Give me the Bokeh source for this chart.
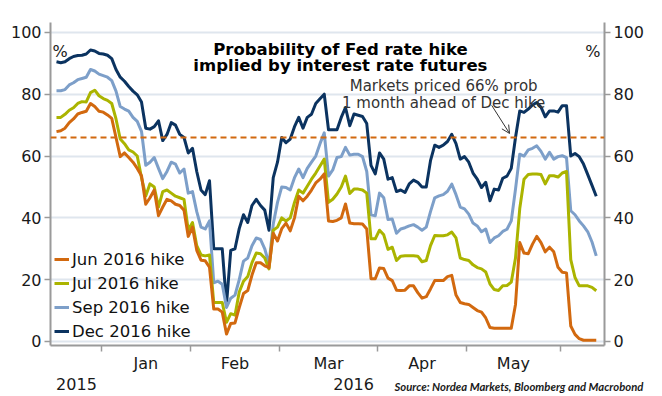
import pandas as pd
from bokeh.plotting import figure
from bokeh.models import (Range1d, LinearAxis, FixedTicker, Span, Label, Legend,
                          LegendItem, Arrow, OpenHead)
from bokeh.embed import file_html
from bokeh.resources import INLINE

# ---------------- data ----------------
dates = pd.bdate_range("2015-12-17", periods=128)

series_names = ["Jun 2016 hike", "Jul 2016 hike", "Sep 2016 hike", "Dec 2016 hike"]
series_colors = ["#d2690f", "#abb400", "#7d9fc9", "#0b3360"]

jun = [67.9, 68.2, 69.0, 70.8, 72.0, 73.6, 74.1, 74.5, 77.0, 76.0,
       74.5, 74.2, 73.3, 72.2, 66.0, 59.8, 61.0, 59.5, 58.0, 56.0,
       53.6, 44.4, 46.5, 49.0, 40.7, 43.5, 46.0, 45.5, 44.4, 44.0,
       42.5, 34.0, 37.0, 29.5, 26.3, 26.1, 24.0, 10.5, 10.5, 9.5,
       2.4, 5.8, 6.0, 11.0, 15.5, 16.5, 21.5, 25.5, 25.5, 24.5,
       23.9, 35.0, 32.5, 36.5, 38.3, 35.8, 40.0, 47.0, 45.5, 47.0,
       49.0, 51.3, 52.5, 54.2, 39.0, 38.8, 39.2, 40.0, 44.5, 38.3,
       38.1, 38.1, 38.0, 36.4, 20.3, 20.3, 23.8, 23.6, 20.5, 19.7,
       16.6, 16.5, 16.6, 18.0, 18.0, 15.8, 14.0, 14.5, 17.0, 19.7,
       19.7, 19.7, 21.0, 21.4, 15.0, 12.6, 12.2, 12.0, 11.0, 10.0,
       9.5, 7.6, 4.5, 4.3, 4.3, 4.3, 4.3, 4.3, 12.0, 32.0,
       28.6, 28.4, 31.5, 34.0, 32.0, 29.0, 30.5, 29.0, 24.0, 22.4,
       22.2, 5.0, 2.3, 0.9, 0.4, 0.4, 0.4, 0.4]

jul = [72.5, 72.5, 73.5, 74.8, 75.6, 77.0, 77.6, 77.5, 80.5, 81.3,
       79.5, 78.6, 78.0, 77.0, 72.0, 65.5, 64.0, 62.0, 61.3, 60.0,
       53.0, 47.1, 51.0, 50.0, 43.5, 48.5, 49.0, 48.0, 47.0, 46.5,
       46.0, 36.0, 38.5, 31.0, 28.0, 27.7, 28.0, 12.6, 12.6, 12.6,
       6.2, 9.0, 8.5, 16.0, 19.5, 21.0, 25.5, 28.6, 28.4, 27.0,
       23.5, 36.0, 37.0, 40.0, 39.0, 40.0, 45.0, 49.0, 48.0, 50.2,
       52.5, 54.5, 56.8, 59.0, 45.0, 46.0, 47.7, 50.0, 53.5, 47.9,
       49.3, 49.3, 49.0, 48.0, 33.2, 33.2, 36.0, 34.5, 29.8, 30.5,
       26.2, 27.6, 27.7, 27.7, 27.7, 27.6, 25.8, 26.2, 31.0, 34.3,
       34.2, 34.2, 34.5, 35.4, 33.5, 27.0, 26.5, 26.2, 24.8, 23.9,
       23.5, 22.5, 18.6, 16.8, 16.5, 18.0, 18.1, 19.2, 27.0, 43.0,
       52.5, 54.0, 54.2, 54.2, 54.0, 51.0, 53.6, 53.6, 53.2, 54.5,
       55.0, 26.5, 20.7, 18.0, 18.0, 18.0, 17.5, 16.4]

sep = [81.1, 81.1, 81.5, 83.0, 83.7, 84.7, 85.1, 85.5, 88.0, 87.5,
       86.5, 86.0, 85.5, 84.4, 81.0, 76.0, 75.2, 74.5, 72.5, 71.2,
       68.0, 57.0, 58.0, 59.5, 56.0, 52.7, 55.0, 58.0, 57.4, 54.5,
       55.8, 48.0, 48.5, 42.0, 37.0, 36.4, 39.0, 19.0, 19.5, 18.5,
       11.0, 14.0, 15.0, 20.0, 26.0, 27.0, 31.0, 33.5, 33.0, 30.0,
       25.0, 38.0, 45.0, 50.0, 49.8, 49.0, 53.0, 55.8, 53.0, 56.0,
       58.0, 60.0, 64.0, 67.5, 53.5, 55.5, 59.5, 59.8, 62.8, 60.3,
       60.6, 60.6, 59.8, 55.0, 41.0, 40.7, 48.0, 46.5, 39.5, 39.6,
       35.0, 36.4, 36.8, 37.4, 37.8, 37.0, 36.0, 37.0, 42.0, 46.5,
       47.1, 47.5, 48.6, 50.9, 47.5, 43.5, 42.9, 41.2, 38.3, 37.4,
       35.5, 36.4, 32.0, 33.5, 34.2, 35.6, 36.3, 39.0, 49.3, 60.6,
       60.0, 62.0, 62.5, 63.3, 61.5, 59.0, 61.2, 59.0, 59.8, 60.1,
       59.5, 42.3, 41.0, 39.0, 37.4, 35.5, 32.2, 27.7]

dec = [90.5, 90.2, 90.5, 91.5, 92.2, 92.5, 92.6, 93.0, 94.3, 94.0,
       93.2, 93.0, 92.6, 91.5, 88.0, 85.5, 84.2, 82.5, 81.0, 79.8,
       77.5, 69.0, 68.7, 69.5, 71.4, 65.0, 67.0, 70.8, 70.0, 67.0,
       66.0, 61.0, 62.5, 55.0, 49.0, 47.5, 52.0, 30.0, 30.0, 30.0,
       12.0, 29.5, 30.0, 36.5, 41.0, 38.5, 44.0, 46.0, 44.0, 42.5,
       36.0, 53.0, 58.0, 66.0, 64.3, 65.5, 69.5, 72.5, 69.0, 72.5,
       73.5, 77.0, 78.5, 80.0, 68.5, 68.5, 68.5, 72.5, 75.7, 69.8,
       73.6, 73.2, 72.8, 70.5, 57.0, 54.2, 61.0, 59.0, 52.5, 53.0,
       48.5, 49.0, 48.2, 51.0, 52.2, 51.5, 50.0, 50.0, 58.5, 63.5,
       62.8, 63.5, 64.7, 67.0, 64.0, 59.0, 59.8, 58.0, 54.5, 52.5,
       49.8, 51.5, 45.5, 49.3, 49.0, 52.8, 53.5, 56.0, 66.0, 74.6,
       74.1, 75.2, 76.5, 77.3, 75.8, 72.7, 74.6, 74.6, 74.2, 76.3,
       76.3, 60.0, 60.8, 59.8, 57.4, 54.0, 50.5, 47.0]

y_ticks = [0, 20, 40, 60, 80, 100]
threshold = 66
year_labels = ["2015", "2016"]
title_lines = ["Probability of Fed rate hike", "implied by interest rate futures"]
note_lines = ["Markets priced 66% prob", "1 month ahead of Dec hike"]
source_text = "Source: Nordea Markets, Bloomberg and Macrobond"

# business-day index as x
x = list(range(len(dates)))
boundaries = [k - 0.5 for k in range(1, len(dates)) if dates[k].month != dates[k - 1].month]
mids = [(a + b) / 2 for a, b in zip(boundaries[:-1], boundaries[1:])]
mid_labels = [dates[int(b + 0.5)].strftime("%b") for b in boundaries[:-1]]
year_pos = [4.7, 69.9]
source_pos = 108.8

# ---------------- figure ----------------
AX = "#9a9a9a"
FONT = "DejaVu Sans"
p = figure(width=662, height=396, x_range=Range1d(-1.41, 128.94),
           y_range=Range1d(-1.3, 103.2), output_backend="svg",
           toolbar_location=None, min_border_left=50, min_border_right=58,
           min_border_top=22, min_border_bottom=51)
p.outline_line_color = None
p.background_fill_color = "white"
p.border_fill_color = "white"

p.xgrid.visible = False
p.ygrid.ticker = FixedTicker(ticks=y_ticks)
p.ygrid.grid_line_color = "#dfe6ee"
p.ygrid.grid_line_width = 2

# bottom axis: month labels centred, ticks at month boundaries
xa = p.xaxis[0]
xa.ticker = FixedTicker(ticks=mids, minor_ticks=boundaries)
xa.major_label_overrides = {m: lab for m, lab in zip(mids, mid_labels)}
xa.major_tick_out = 0
xa.major_tick_in = 0
xa.minor_tick_out = 6
xa.minor_tick_in = 0
xa.minor_tick_line_color = AX
xa.minor_tick_line_width = 1.5
xa.axis_line_color = AX
xa.axis_line_width = 2
xa.major_label_standoff = 2
xa.major_label_text_font = FONT
xa.major_label_text_font_size = "16px"
xa.major_label_text_color = "#1a1a1a"

def bare_axis(ticks, labels, font, size, style, standoff):
    ax = LinearAxis(ticker=FixedTicker(ticks=ticks),
                    major_label_overrides={v: t for v, t in zip(ticks, labels)})
    ax.axis_line_color = None
    ax.major_tick_line_color = None
    ax.minor_tick_line_color = None
    ax.major_tick_out = 0
    ax.major_tick_in = 0
    ax.minor_tick_out = 0
    ax.minor_tick_in = 0
    ax.major_label_standoff = standoff
    ax.major_label_text_font = font
    ax.major_label_text_font_size = size
    ax.major_label_text_font_style = style
    ax.major_label_text_color = "#1a1a1a"
    return ax

# second row below: years; then the source note pulled up onto the same row
p.add_layout(bare_axis(year_pos, year_labels, FONT, "16px", "normal", 2), "below")
p.add_layout(bare_axis([source_pos], [source_text], "Lato", "11.3px", "bold italic", -13), "below")

def style_y(ax):
    ax.ticker = FixedTicker(ticks=y_ticks)
    ax.minor_tick_line_color = None
    ax.major_tick_out = 6
    ax.major_tick_in = 0
    ax.major_tick_line_color = AX
    ax.major_tick_line_width = 1.5
    ax.axis_line_color = AX
    ax.axis_line_width = 2
    ax.major_label_standoff = 3
    ax.major_label_text_font = FONT
    ax.major_label_text_font_size = "16px"
    ax.major_label_text_color = "#1a1a1a"

style_y(p.yaxis[0])
ry = LinearAxis()
style_y(ry)
p.add_layout(ry, "right")

# threshold line
p.add_layout(Span(location=threshold, dimension="width", line_color="#d2690f",
                  line_dash="6 4", line_width=2))

# series (Jun drawn on top)
data = [jun, jul, sep, dec]
renderers = {}
for name, col, vals in reversed(list(zip(series_names, series_colors, data))):
    renderers[name] = p.line(x, vals, line_color=col, line_width=3, line_join="round")

legend = Legend(items=[LegendItem(label=n, renderers=[renderers[n]]) for n in series_names],
                location=(4, 4))
legend.label_text_font = FONT
legend.label_text_font_size = "16.5px"
legend.label_text_color = "#111111"
legend.glyph_width = 15
legend.glyph_height = 20
legend.label_height = 20
legend.spacing = 4
legend.padding = 4
legend.margin = 0
legend.label_standoff = 3
legend.background_fill_alpha = 0
legend.border_line_color = None
p.add_layout(legend)

# title
for txt, yv in zip(title_lines, [94.5, 89.2]):
    p.add_layout(Label(x=66.8, y=yv, text=txt, text_align="center",
                       text_baseline="alphabetic", text_font=FONT,
                       text_font_style="bold", text_font_size="16.5px",
                       text_color="#000000"))

# annotation
for txt, yv in zip(note_lines, [82.5, 77.3]):
    p.add_layout(Label(x=91.1, y=yv, text=txt, text_align="center",
                       text_baseline="alphabetic", text_font=FONT,
                       text_font_size="15px", text_color="#333333"))
p.add_layout(Arrow(end=OpenHead(size=8, line_color="#333333", line_width=1),
                   x_start=102.4, y_start=76.4, x_end=106.6, y_end=67.3,
                   line_color="#333333", line_width=1))

# % unit labels
p.add_layout(Label(x=-0.94, y=93.9, text="%", text_align="left", text_baseline="alphabetic",
                   text_font=FONT, text_font_size="16px", text_color="#1a1a1a"))
p.add_layout(Label(x=128.0, y=93.9, text="%", text_align="right", text_baseline="alphabetic",
                   text_font=FONT, text_font_size="16px", text_color="#1a1a1a"))

open("out.html", "w").write(file_html(p, INLINE))
